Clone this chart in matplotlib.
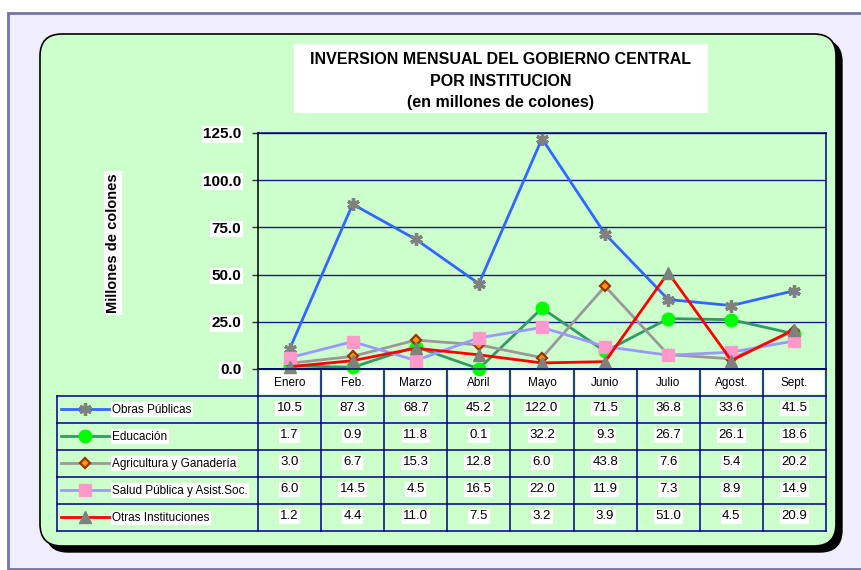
import matplotlib
matplotlib.use("Agg")
import matplotlib.pyplot as plt
from matplotlib.patches import Rectangle, FancyBboxPatch
import numpy as np

months = ["Enero", "Feb.", "Marzo", "Abril", "Mayo", "Junio", "Julio", "Agost.", "Sept."]
series_names = ["Obras Públicas", "Educación", "Agricultura y Ganadería",
                "Salud Pública y Asist.Soc.", "Otras Instituciones"]
obras = [10.5, 87.3, 68.7, 45.2, 122.0, 71.5, 36.8, 33.6, 41.5]
educacion = [1.7, 0.9, 11.8, 0.1, 32.2, 9.3, 26.7, 26.1, 18.6]
agricultura = [3.0, 6.7, 15.3, 12.8, 6.0, 43.8, 7.6, 5.4, 20.2]
salud = [6.0, 14.5, 4.5, 16.5, 22.0, 11.9, 7.3, 8.9, 14.9]
otras = [1.2, 4.4, 11.0, 7.5, 3.2, 3.9, 51.0, 4.5, 20.9]
y_ticks = [0, 25, 50, 75, 100, 125]

series = [obras, educacion, agricultura, salud, otras]
line_colors = ["#3366FF", "#339966", "#999999", "#9999FF", "#FF0000"]
styles = [
    dict(marker=(6, 2, 0), markersize=9, markeredgecolor="#808080", markerfacecolor="#808080", markeredgewidth=2.4),
    dict(marker="o", markersize=9, markeredgecolor="#00FF00", markerfacecolor="#00FF00"),
    dict(marker="D", markersize=5.5, markeredgecolor="#993300", markerfacecolor="#FF9900", markeredgewidth=1.6),
    dict(marker="s", markersize=9, markeredgecolor="#FF99CC", markerfacecolor="#FF99CC"),
    dict(marker="^", markersize=9, markeredgecolor="#808080", markerfacecolor="#808080"),
]

W, H = 862, 570
fig = plt.figure(figsize=(W / 100, H / 100), dpi=100)
fig.patch.set_facecolor("white")

bg = fig.add_axes([0, 0, 1, 1], zorder=0)
bg.set_xlim(0, W)
bg.set_ylim(H, 0)
bg.axis("off")

# outer frame
bg.add_patch(Rectangle((8, 13), 860, 556, facecolor="#F0EEFC", edgecolor="#7373A8", lw=2))
# shadow + green rounded box
bg.add_patch(FancyBboxPatch((46, 40), 796, 512, boxstyle="round,pad=0,rounding_size=22",
                            facecolor="black", edgecolor="black", lw=1))
bg.add_patch(FancyBboxPatch((40, 34), 796, 512, boxstyle="round,pad=0,rounding_size=22",
                            facecolor="#CCFFCC", edgecolor="black", lw=1.2))

# title
bg.add_patch(Rectangle((294, 44), 414, 69, facecolor="white", edgecolor="none"))
bg.text(501, 59, "INVERSION MENSUAL DEL GOBIERNO CENTRAL", ha="center", va="center",
        fontsize=11.5, fontweight="bold", family="Liberation Sans")
bg.text(501, 81, "POR INSTITUCION", ha="center", va="center",
        fontsize=11.5, fontweight="bold", family="Liberation Sans")
bg.text(501, 103, "(en millones de colones)", ha="center", va="center",
        fontsize=11.5, fontweight="bold", family="Liberation Sans")

# y label
bg.text(113, 243, "Millones de colones", rotation=90, ha="center", va="center",
        fontsize=10.5, fontweight="bold", family="Liberation Sans",
        bbox=dict(facecolor="white", edgecolor="none", pad=1.5))

# table geometry
x0, x1 = 258, 826
ncol = len(months)
cw = (x1 - x0) / ncol
top = 369
hdr_bot = 395.7
rh = (531 - hdr_bot) / len(series)
leg_x = 57
navy = "#000080"

for i, m in enumerate(months):
    bg.add_patch(Rectangle((x0 + i * cw + 2, top + 2), cw - 4, hdr_bot - top - 4,
                           facecolor="white", edgecolor="none"))
    bg.text(x0 + (i + 0.5) * cw, (top + hdr_bot) / 2 + 0.5, m, ha="center", va="center",
            fontsize=8.5, family="Liberation Sans")

# horizontal lines
bg.plot([x0, x1], [top, top], color=navy, lw=1.2)
for r in range(len(series) + 1):
    yy = hdr_bot + r * rh
    bg.plot([leg_x, x1], [yy, yy], color=navy, lw=1.1)
# vertical lines
bg.plot([leg_x, leg_x], [hdr_bot, hdr_bot + len(series) * rh], color=navy, lw=1.1)
for i in range(ncol + 1):
    xx = x0 + i * cw
    bg.plot([xx, xx], [top, hdr_bot + len(series) * rh], color=navy, lw=1.1)

# legend & values
for r, (name, vals, c, st) in enumerate(zip(series_names, series, line_colors, styles)):
    yc = hdr_bot + (r + 0.5) * rh
    bg.plot([61, 109], [yc, yc], color=c, lw=2)
    bg.plot([85], [yc], linestyle="none", **st)
    bg.text(112, yc + 0.5, name, ha="left", va="center", fontsize=8.5,
            family="Liberation Sans",
            bbox=dict(facecolor="white", edgecolor="none", pad=1))
    for i, v in enumerate(vals):
        bg.text(x0 + (i + 0.5) * cw, yc - 1, f"{v:.1f}", ha="center", va="center",
                fontsize=9.5, family="Liberation Sans",
                bbox=dict(facecolor="white", edgecolor="none", pad=1))

# main chart
ax = fig.add_axes([x0 / W, (H - top) / H, (x1 - x0) / W, (top - 133) / H], zorder=1)
ax.patch.set_alpha(0)
x = np.arange(ncol)
for vals, c, st in zip(series, line_colors, styles):
    ax.plot(x, vals, color=c, lw=2, clip_on=False, **st)
ax.set_xlim(-0.5, ncol - 0.5)
ax.set_ylim(0, 125)
ax.set_yticks(y_ticks)
ax.set_yticklabels([f"{t:.1f}" for t in y_ticks], fontsize=11, fontweight="bold",
                   family="Liberation Sans")
for lbl in ax.get_yticklabels():
    lbl.set_bbox(dict(facecolor="white", edgecolor="none", pad=1))
ax.set_xticks([])
ax.tick_params(axis="y", length=4, width=1, color="#333333", pad=8)
for t in y_ticks[1:]:
    ax.axhline(t, color="#1A1A8C", lw=1, zorder=0)
ax.spines["left"].set_color("black")
for s in ["top", "right", "bottom"]:
    ax.spines[s].set_color(navy)
for s in ax.spines.values():
    s.set_linewidth(1.1)

fig.savefig("out.png", dpi=100, facecolor="white")
